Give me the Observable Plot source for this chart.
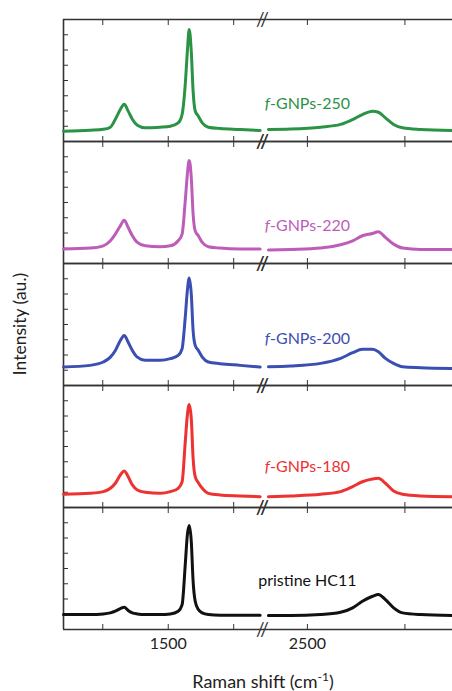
<!DOCTYPE html>
<html>
<head>
<meta charset="utf-8">
<script src="https://cdn.jsdelivr.net/npm/d3@7"></script>
<script src="https://cdn.jsdelivr.net/npm/@observablehq/plot@0.6"></script>
<style>
  html, body { margin: 0; padding: 0; background: #fff; }
  #chart svg { display: block; }
</style>
</head>
<body>
<div id="chart"></div>
<script>
// Raman spectra of pristine HC11 and f-GNPs prepared at four temperatures.
// The x axis is broken between the G band region and the 2D band region.

const samples = ["f-GNPs-250", "f-GNPs-220", "f-GNPs-200", "f-GNPs-180", "pristine HC11"];
const colors  = ["#2a9346", "#bd5db9", "#3b4fb2", "#ee3131", "#111111"];

// Raman shift (cm-1) sampled on the low-wavenumber segment (D and G bands)
const shiftLow = [1100, 1202, 1252, 1279, 1298, 1317, 1332, 1347, 1363, 1382, 1412, 1469, 1508, 1538,
                  1553, 1565, 1573, 1580, 1588, 1595, 1603, 1615, 1630, 1653, 1698, 1775, 1851];
// Raman shift (cm-1) sampled on the high-wavenumber segment (2D band)
const shiftHigh = [2400, 2457, 2534, 2585, 2616, 2641, 2667, 2682, 2700, 2721, 2744, 2790, 2872];

// Intensities (a.u.) on the low segment, one list per sample
const low250 = [0.68, 0.74, 0.80, 0.94, 1.46, 2.10, 2.44, 1.99, 1.46, 1.07, 0.90, 0.94, 1.00, 1.22,
                1.78, 3.74, 5.90, 7.35, 5.90, 3.30, 2.00, 1.66, 1.22, 0.94, 0.85, 0.79, 0.72];
const low220 = [0.95, 1.01, 1.16, 1.49, 1.93, 2.47, 2.84, 2.36, 1.82, 1.38, 1.16, 1.10, 1.16, 1.49,
                1.93, 4.10, 5.85, 6.76, 5.63, 3.23, 2.14, 1.82, 1.38, 1.10, 1.01, 0.95, 0.95];
const low200 = [1.21, 1.32, 1.54, 1.86, 2.30, 2.95, 3.28, 2.84, 2.30, 1.86, 1.65, 1.65, 1.76, 1.97,
                2.41, 4.48, 6.22, 7.05, 6.00, 3.60, 2.63, 2.30, 1.86, 1.54, 1.43, 1.32, 1.21];
const low180 = [0.87, 0.93, 1.04, 1.26, 1.59, 2.13, 2.39, 2.02, 1.48, 1.15, 1.00, 0.93, 1.04, 1.26,
                1.69, 4.31, 6.05, 6.75, 5.84, 3.22, 2.02, 1.63, 1.26, 0.93, 0.82, 0.76, 0.71];
const lowHC11 = [0.98, 0.98, 1.02, 1.09, 1.20, 1.37, 1.46, 1.24, 1.09, 1.02, 0.98, 0.98, 1.02, 1.20,
                 1.63, 4.25, 6.21, 6.82, 5.77, 3.16, 1.85, 1.31, 1.09, 0.98, 0.93, 0.93, 0.93];

// Intensities (a.u.) on the high segment, one list per sample
const high250 = [0.79, 0.82, 0.94, 1.12, 1.44, 1.77, 1.99, 1.92, 1.55, 1.12, 0.90, 0.79, 0.72];
const high220 = [0.88, 0.92, 1.01, 1.23, 1.49, 1.82, 1.97, 2.08, 1.71, 1.27, 1.01, 0.92, 0.92];
const high200 = [1.23, 1.28, 1.45, 1.78, 2.15, 2.37, 2.37, 2.21, 1.78, 1.45, 1.23, 1.17, 1.12];
const high180 = [0.71, 0.76, 0.87, 1.04, 1.37, 1.69, 1.87, 1.91, 1.59, 1.08, 0.87, 0.76, 0.71];
const highHC11 = [0.92, 0.92, 0.98, 1.13, 1.42, 1.85, 2.18, 2.29, 1.96, 1.42, 1.09, 0.98, 0.92];

// Height (a.u.) at which each sample name sits inside its panel
const labelLevel = [2.44, 2.47, 3.08, 2.67, 3.16];

const xTicks = [1250, 1500, 1750, 2500, 2750];
const xTickLabels = [1500, 2500];
const yTicks = [1, 2, 3, 4, 5, 6, 7];

// Long-format table built from the arrays above
const lows = [low250, low220, low200, low180, lowHC11];
const highs = [high250, high220, high200, high180, highHC11];
const rows = [];
samples.forEach((s, i) => {
  shiftLow.forEach((w, j) => rows.push({sample: s, seg: "low", shift: w, intensity: lows[i][j]}));
  shiftHigh.forEach((w, j) => rows.push({sample: s, seg: "high", shift: w, intensity: highs[i][j]}));
});
const labels = samples.map((s, i) => ({sample: s, shift: 2500, intensity: labelLevel[i]}));

const font = "Lato, 'Open Sans', sans-serif";

const chart = Plot.plot({
  width: 452,
  height: 691,
  marginTop: 18,
  marginBottom: 61,
  marginLeft: 63,
  marginRight: 0,
  style: {fontFamily: font, fontSize: "16px", color: "#222", background: "#fff"},
  // broken axis: two linear pieces joined at the gap
  x: {type: "linear", domain: [1100, 1860, 2390, 2872], range: [63, 262, 264, 452]},
  y: {domain: [0, 8]},
  fy: {domain: samples, padding: 0, axis: null},
  color: {domain: samples, range: colors},
  marks: [
    // panel borders
    Plot.ruleY([0, 8], {stroke: "#333", strokeWidth: 1.3}),
    Plot.ruleX([1100], {stroke: "#333", strokeWidth: 1.6}),
    // inward ticks on every panel
    Plot.axisX(xTicks, {anchor: "bottom", tickSize: -5, tickFormat: () => "", facetAnchor: null, label: null, stroke: "#333"}),
    Plot.axisX(xTicks, {anchor: "top", tickSize: -5, tickFormat: () => "", facetAnchor: null, label: null, stroke: "#333"}),
    Plot.axisY(yTicks, {anchor: "left", tickSize: -5, tickFormat: () => "", facetAnchor: null, label: null, stroke: "#333"}),
    // tick labels under the last panel
    Plot.axisX(xTickLabels, {anchor: "bottom", tickSize: 0, tickPadding: 8, label: null, fontSize: 16, tickFormat: d => String(d)}),
    // axis break marks
    Plot.text([0, 8], {x: 1860, y: d => d, text: () => "//", fontSize: 19, fill: "#333"}),
    // spectra
    Plot.line(rows, {x: "shift", y: "intensity", z: "seg", fy: "sample", stroke: "sample", strokeWidth: 3, curve: "monotone-x"}),
    // sample names
    Plot.text(labels, {x: "shift", y: "intensity", fy: "sample", text: "sample", fill: "sample", fontSize: 16, textAnchor: "middle"})
  ]
});

const svg = d3.select(chart);

// italic f in the f-GNPs names
svg.selectAll("text").each(function () {
  const t = d3.select(this);
  const s = t.text();
  if (/^f-GNPs/.test(s) && this.childNodes.length === 1) {
    t.text(null);
    t.append("tspan").attr("font-style", "italic").text("f");
    t.append("tspan").text(s.slice(1));
  }
});

// axis titles
svg.append("text")
  .attr("transform", "translate(22,324) rotate(-90)")
  .attr("text-anchor", "middle")
  .attr("dominant-baseline", "middle")
  .attr("font-size", 17.5)
  .attr("fill", "#222")
  .text("Intensity (au.)");

const xt = svg.append("text")
  .attr("x", 263)
  .attr("y", 688)
  .attr("text-anchor", "middle")
  .attr("font-size", 18)
  .attr("fill", "#222");
xt.append("tspan").text("Raman shift (cm");
xt.append("tspan").attr("font-size", 12).attr("dy", -7).text("-1");
xt.append("tspan").attr("dy", 7).text(")");

document.getElementById("chart").appendChild(chart);
</script>
</body>
</html>
